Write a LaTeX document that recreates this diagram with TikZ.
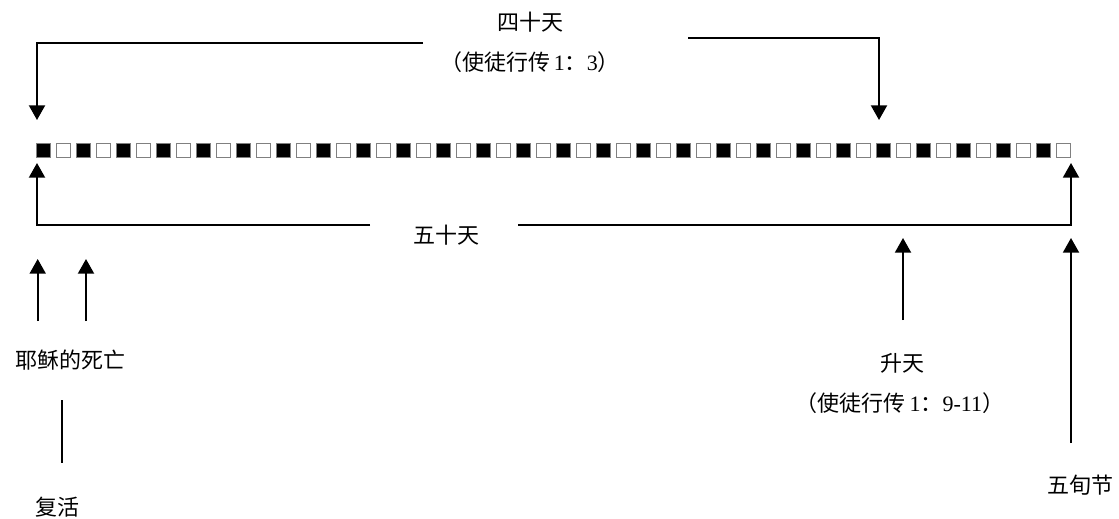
\documentclass[tikz,border=0pt]{standalone}
\usepackage{fontspec}
\setmainfont{Liberation Serif}
\newfontfamily\cjk{Noto Sans CJK SC}
\usetikzlibrary{arrows.meta}
\begin{document}
\begin{tikzpicture}[x=0.75pt,y=-0.75pt,
  arr/.style={line width=1.5pt,-{Triangle[length=11pt,width=12pt]}},
  plain/.style={line width=1.5pt},
  sq/.style={draw=black!50,line width=0.8pt,minimum size=10.6pt,inner sep=0pt},
  lbl/.style={font=\fontsize{16.5}{20}\selectfont\cjk,inner sep=0pt}]
\useasboundingbox[fill=white] (0,0) rectangle (1119,518);
% row of days
\foreach \i in {0,...,51}{
  \ifodd\i \def\fc{white}\else\def\fc{black}\fi
  \node[sq,fill=\fc] (s\i) at (43.7+20*\i,150.5) {};
}
% labels
\node[lbl] (t40) at (530,22) {四十天};
\node[lbl] (c40) at (530,62) {（使徒行传\,{\rmfamily 1}：{\rmfamily 3}）};
\node[lbl] (t50) at (446,235) {五十天};
\node[lbl] (death) at (70,360) {耶稣的死亡};
\node[lbl] (res) at (57.5,507) {复活};
\node[lbl] (asc) at (902,363) {升天};
\node[lbl] (casc) at (900,403) {（使徒行传\,{\rmfamily 1}：{\rmfamily 9-11}）};
\node[lbl] (pent) at (1080,485) {五旬节};
% coordinates
\coordinate (tlA) at (423,43);
\coordinate (tlB) at (37,120);
\coordinate (trA) at (688,38);
\coordinate (trB) at (879,120);
\coordinate (blA) at (370,225);
\coordinate (blB) at (37,163);
\coordinate (brA) at (518,225);
\coordinate (brB) at (1071,163);
\coordinate (ascA) at (903,320);
\coordinate (ascB) at (903,238);
\coordinate (penA) at (1071,443);
\coordinate (penB) at (1071,238);
\coordinate (d1A) at (37.7,321);
\coordinate (d1B) at (37.7,259);
\coordinate (d2A) at (86,321);
\coordinate (d2B) at (86,259);
\coordinate (rA) at (61.7,400);
\coordinate (rB) at (61.7,463);
% connectors
\draw[arr] (tlA) -| (tlB);
\draw[arr] (trA) -| (trB);
\draw[arr] (blA) -| (blB);
\draw[arr] (brA) -| (brB);
\draw[arr] (ascA) -- (ascB);
\draw[arr] (penA) -- (penB);
\draw[arr] (d1A) -- (d1B);
\draw[arr] (d2A) -- (d2B);
\draw[plain] (rA) -- (rB);
\end{tikzpicture}
\end{document}
